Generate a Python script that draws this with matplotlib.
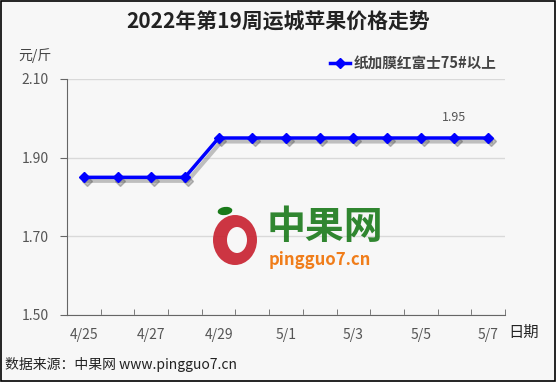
import numpy as np
import matplotlib.pyplot as plt
from matplotlib.patches import Ellipse, Rectangle
import matplotlib.transforms as mtransforms

plt.rcParams['font.family'] = ['Noto Sans CJK SC', 'DejaVu Sans']

# ==== Data ====
dates = ["4/25", "4/26", "4/27", "4/28", "4/29", "4/30", "5/1",
         "5/2", "5/3", "5/4", "5/5", "5/6", "5/7"]
prices = [1.85, 1.85, 1.85, 1.85, 1.95, 1.95, 1.95,
          1.95, 1.95, 1.95, 1.95, 1.95, 1.95]
series_name = "纸加膜红富士75#以上"
label_idx = 11
yticks = [1.50, 1.70, 1.90, 2.10]
# ==============

W, H = 556, 382
fig = plt.figure(figsize=(W / 100, H / 100), dpi=100)
fig.patch.set_facecolor('#f7f7f7')
fig.add_artist(Rectangle((0.002, 0.002), 0.996, 0.995, transform=fig.transFigure,
                         fill=False, edgecolor='black', linewidth=1.2))

ax = fig.add_axes([67 / W, 1 - 315 / H, 438 / W, 236 / H])
ax.set_facecolor('#f7f7f7')

x = np.arange(len(dates))
# soft drop shadow
shadow = ax.transData + mtransforms.ScaledTranslation(2 / 72, -2.5 / 72, fig.dpi_scale_trans)
ax.plot(x, prices, color='#555555', alpha=0.35, linewidth=3, marker='D', markersize=5,
        transform=shadow, zorder=2)
ax.plot(x, prices, color='blue', linewidth=2.5, marker='D', markersize=5, zorder=3)
ax.text(x[label_idx], prices[label_idx] + 0.035, f"{prices[label_idx]:.2f}",
        ha='center', va='bottom', fontsize=9, color='#555555')

ax.set_xlim(-0.5, len(dates) - 0.5)
ax.set_ylim(1.50, 2.10)
ax.set_yticks(yticks)
ax.set_yticklabels([f"{v:.2f}" for v in yticks], fontsize=10, color='#555555')
ax.set_xticks(x[::2])
ax.set_xticklabels(dates[::2], fontsize=10, color='#555555')
ax.set_xticks(np.arange(-0.5, len(dates), 1), minor=True)
ax.tick_params(axis='x', which='major', length=0, pad=9)
ax.tick_params(axis='x', which='minor', length=4, color='#666666', direction='in')
ax.tick_params(axis='y', length=5, color='#666666', pad=8)

ax.grid(axis='y', color='#d9d9d9', linewidth=1)
ax.set_axisbelow(True)
for s in ['top', 'right']:
    ax.spines[s].set_visible(False)
for s in ['left', 'bottom']:
    ax.spines[s].set_color('#666666')

# watermark
fig.text(325 / W, 1 - 228 / H, "中果网", fontsize=28, color='#1a7a1a',
         fontweight='bold', ha='center', va='center', alpha=0.9)
fig.text(320 / W, 1 - 260 / H, "pingguo7.cn", fontsize=12, color='#f07d1a',
         fontweight='bold', ha='center', va='center', style='italic')
fig.add_artist(Ellipse((235 / W, 1 - 240 / H), 44 / W, 50 / H, transform=fig.transFigure,
                       facecolor='#c8202e', edgecolor='none', alpha=0.9))
fig.add_artist(Ellipse((237 / W, 1 - 240 / H), 20 / W, 26 / H, transform=fig.transFigure,
                       facecolor='#f7f7f7', edgecolor='none'))
fig.add_artist(Ellipse((225 / W, 1 - 211 / H), 15 / W, 8 / H, angle=20,
                       transform=fig.transFigure, facecolor='#1a7a1a', edgecolor='none'))

# legend
fig.add_artist(plt.Line2D([330 / W, 350 / W], [1 - 63 / H, 1 - 63 / H],
                          transform=fig.transFigure, color='blue', linewidth=2.5))
fig.add_artist(plt.Line2D([340 / W], [1 - 63 / H], transform=fig.transFigure,
                          color='blue', marker='D', markersize=5))
fig.text(354 / W, 1 - 63 / H, series_name, fontsize=10.5, fontweight='bold',
         color='#444444', ha='left', va='center')

fig.text(0.5, 1 - 22 / H, "2022年第19周运城苹果价格走势", fontsize=15,
         fontweight='bold', color='#222222', ha='center', va='center')
fig.text(18 / W, 1 - 56 / H, "元/斤", fontsize=10, color='#444444', ha='left', va='center')
fig.text(508 / W, 1 - 332 / H, "日期", fontsize=11, color='#222222', ha='left', va='center')
fig.text(5 / W, 1 - 365 / H, "数据来源：中果网 www.pingguo7.cn", fontsize=10,
         color='#222222', ha='left', va='center')

fig.savefig("out.png", dpi=100, facecolor=fig.get_facecolor())
